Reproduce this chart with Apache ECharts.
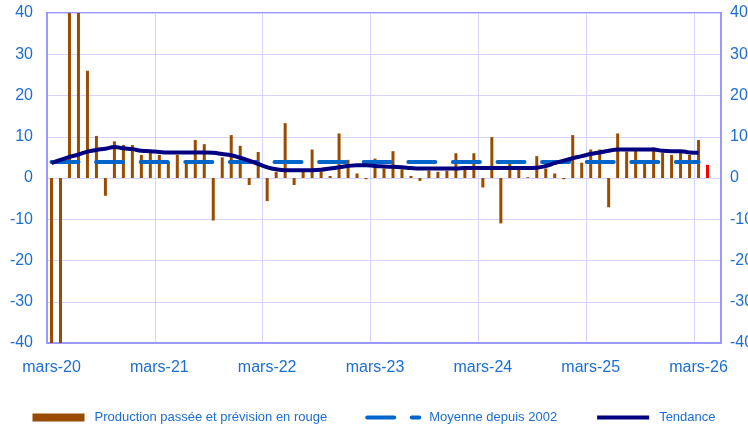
<!DOCTYPE html>
<html lang="fr">

<head>
    <meta charset="UTF-8">
    <title>Production</title>
    <script src="https://cdn.jsdelivr.net/npm/echarts@6/dist/echarts.min.js"></script>
    <style>
        * {
            margin: 0;
            padding: 0;
        }

        #main {
            width: 748px;
            height: 427px;
            background-color: #fff;
        }
    </style>
</head>

<body>
    <div id="main"></div>
    <script>
        // mois de mars-20 a mai-26
        const moisNoms = ['janv.', 'févr.', 'mars', 'avr.', 'mai', 'juin', 'juil.', 'août', 'sept.', 'oct.', 'nov.', 'déc.'];
        const categories = [];
        for (let k = 0; k < 75; k++) {
            const m = (2 + k) % 12;
            const an = 20 + Math.floor((2 + k) / 12);
            categories.push(moisNoms[m] + '-' + an);
        }

        // production passee (dernier point = prevision, en rouge)
        const production = [
            -40, -40, 40, 40, 26, 10.2, -4.3, 8.9, 8.0, 8.0, 5.6, 6.1,
            5.6, 4.0, 5.6, 3.4, 9.2, 8.2, -10.3, 5.0, 10.4, 7.8, -1.7, 6.3,
            -5.6, 1.5, 13.3, -1.7, 1.6, 6.9, 1.6, 0.5, 10.8, 4.4, 1.1, -0.3,
            4.7, 2.3, 6.5, 2.1, 0.5, -0.7, 1.8, 1.5, 1.8, 6.0, 2.1, 6.0,
            -2.3, 9.9, -11.0, 3.4, 2.1, 0.2, 5.3, 2.3, 1.1, -0.3, 10.4, 3.7,
            6.9, 6.9, -7.1, 10.8, 6.4, 6.8, 3.6, 7.4, 6.1, 5.6, 6.4, 5.6,
            9.2, 3.2, null
        ];
        const indexPrevision = 73;

        const tendance = [
            3.6, 4.4, 5.1, 5.7, 6.4, 6.8, 7.1, 7.5, 7.2, 7.0, 6.6, 6.5,
            6.3, 6.2, 6.2, 6.2, 6.2, 6.2, 6.1, 5.8, 5.5, 4.9, 4.2, 3.4,
            2.6, 2.1, 1.9, 1.9, 1.9, 1.9, 2.0, 2.3, 2.6, 2.9, 3.1, 3.1,
            2.9, 2.8, 2.7, 2.6, 2.4, 2.3, 2.3, 2.3, 2.3, 2.3, 2.4, 2.4,
            2.4, 2.4, 2.4, 2.4, 2.4, 2.4, 2.5, 2.9, 3.6, 4.2, 4.8, 5.3,
            5.8, 6.2, 6.6, 6.9, 6.9, 6.9, 6.9, 6.9, 6.6, 6.5, 6.5, 6.2,
            6.1, null, null
        ];

        const moyenneDepuis2002 = 3.9;
        const dernierObserve = 72;

        const yTicks = [-40, -30, -20, -10, 0, 10, 20, 30, 40];

        const bleuTexte = '#1c6ed2';
        const police = 'Liberation Sans, Arial, sans-serif';

        const barData = production.map((v, i) => i === indexPrevision
            ? { value: v, itemStyle: { color: '#ff0000' } }
            : v);
        const moyenneData = categories.map((c, i) => i <= dernierObserve ? moyenneDepuis2002 : null);

        const yAxisBase = {
            type: 'value',
            min: yTicks[0],
            max: yTicks[yTicks.length - 1],
            interval: 10,
            axisLine: { show: true, lineStyle: { color: '#9999ff', width: 2 } },
            axisTick: { show: false },
            axisLabel: { color: bleuTexte, fontSize: 16, fontFamily: police },
            splitLine: { lineStyle: { color: '#d4d4ff', width: 1 } }
        };

        const chart = echarts.init(document.getElementById('main'));
        const option = {
            animation: false,
            grid: {
                left: 47, right: 27, top: 13, bottom: 84,
                show: true, borderColor: '#9999ff', borderWidth: 2,
                outerBoundsMode: 'none'
            },
            legend: {
                left: 'center',
                top: 406,
                itemGap: 38,
                itemWidth: 52,
                itemHeight: 8,
                textStyle: { color: bleuTexte, fontSize: 13, fontFamily: police, padding: [0, 0, 0, 5] },
                data: [
                    { name: 'Production passée et prévision en rouge', icon: 'rect' },
                    { name: 'Moyenne depuis 2002', itemStyle: { opacity: 0 }, lineStyle: { width: 4, cap: 'round' } },
                    { name: 'Tendance', itemStyle: { opacity: 0 }, lineStyle: { width: 4 } }
                ]
            },
            xAxis: {
                type: 'category',
                data: categories,
                boundaryGap: true,
                axisLine: { onZero: false, lineStyle: { color: '#9999ff', width: 2 } },
                axisTick: { show: false },
                axisLabel: {
                    interval: 11, color: bleuTexte, fontSize: 16, fontFamily: police, margin: 17
                },
                splitLine: { show: true, interval: 11, lineStyle: { color: '#d4d4ff', width: 1 } }
            },
            yAxis: [
                Object.assign({}, yAxisBase, { position: 'left', axisLabel: Object.assign({}, yAxisBase.axisLabel, { margin: 14 }) }),
                Object.assign({}, yAxisBase, { position: 'right', splitLine: { show: false }, axisLabel: Object.assign({}, yAxisBase.axisLabel, { margin: 9 }) })
            ],
            series: [
                {
                    name: 'Production passée et prévision en rouge',
                    type: 'bar',
                    data: barData,
                    barWidth: 3,
                    itemStyle: { color: '#994c00' },
                    z: 2
                },
                {
                    name: 'Moyenne depuis 2002',
                    type: 'line',
                    data: moyenneData,
                    symbol: 'none',
                    lineStyle: { color: '#0066cc', width: 4, type: [27, 17.6], cap: 'round' },
                    itemStyle: { color: '#0066cc' },
                    z: 3
                },
                {
                    name: 'Tendance',
                    type: 'line',
                    data: tendance,
                    symbol: 'none',
                    smooth: true,
                    lineStyle: { color: '#000080', width: 4 },
                    itemStyle: { color: '#000080' },
                    z: 4
                }
            ]
        };

        option && chart.setOption(option);
    </script>
</body>

</html>
